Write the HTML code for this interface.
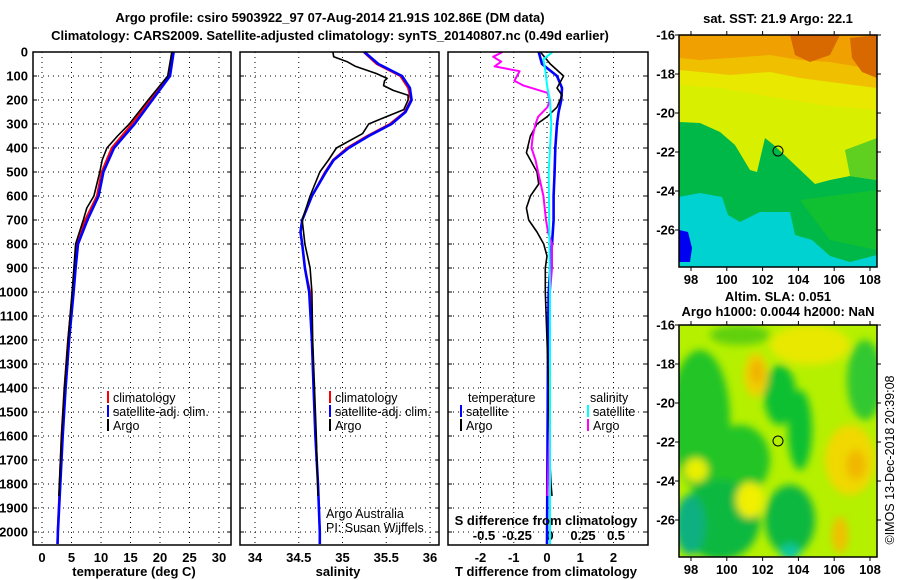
<!DOCTYPE html>
<html><head><meta charset="utf-8">
<style>
html,body{margin:0;padding:0;background:#fff;}
svg{display:block;font-family:"Liberation Sans",sans-serif;}
.b{font-weight:bold;font-size:13px;}
.n{font-size:12.5px;}
</style></head>
<body>
<svg id="fig" width="900" height="580" viewBox="0 0 900 580">
<defs>
<filter id="bl" x="-20%" y="-20%" width="140%" height="140%"><feGaussianBlur stdDeviation="4"/></filter>
<clipPath id="c1"><rect x="679" y="35" width="198" height="232"/></clipPath>
<clipPath id="c2"><rect x="679" y="325" width="198" height="232"/></clipPath>
</defs>
<text class="b" x="330" y="22" text-anchor="middle">Argo profile: csiro 5903922_97 07-Aug-2014 21.91S 102.86E (DM data)</text>
<text class="b" x="330" y="40" text-anchor="middle">Climatology: CARS2009. Satellite-adjusted climatology: synTS_20140807.nc (0.49d earlier)</text>

<g clip-path="url(#c1)">
<rect x="679" y="35" width="198" height="232" fill="#00d2d2"/>
<polygon fill="#00b848" points="679,35 877,35 877,255 850,262 830,256 812,240 795,235 790,212 760,212 740,222 728,215 722,197 700,193 679,197"/>
<polygon fill="#10c030" points="800,200 877,190 877,250 830,240"/>
<polygon fill="#d8f000" points="679,35 877,35 877,180 850,176 830,180 815,184 795,165 775,146 765,138 757,172 750,170 735,145 720,132 700,123 679,122"/>
<polygon fill="#60d020" points="845,150 877,138 877,180 850,176"/>
<polygon fill="#e8e800" points="679,35 877,35 877,110 820,105 790,100 760,95 720,88 679,85"/>
<polygon fill="#f0c000" points="679,35 877,35 877,88 830,82 800,78 770,72 730,75 700,72 679,70"/>
<polygon fill="#f0a000" points="679,35 877,35 877,70 830,62 800,60 770,55 730,58 700,60 679,58"/>
<polygon fill="#d86800" points="790,35 840,35 830,55 810,62 795,55"/>
<polygon fill="#d86800" points="850,38 877,35 877,78 862,72 852,58"/>
<polygon fill="#0000f0" points="679,230 688,232 692,248 690,262 679,262"/>
<circle cx="778" cy="151" r="5" fill="none" stroke="#000" stroke-width="1"/>
</g>
<rect x="679" y="35" width="198" height="232" fill="none" stroke="#000" stroke-width="1.5"/>

<g clip-path="url(#c2)">
<rect x="679" y="325" width="198" height="232" fill="#b4f000"/>
<g filter="url(#bl)">
<ellipse cx="700" cy="420" rx="30" ry="70" fill="#20c428"/>
<ellipse cx="740" cy="460" rx="30" ry="35" fill="#20c428"/>
<ellipse cx="720" cy="520" rx="40" ry="40" fill="#10b840"/>
<ellipse cx="690" cy="525" rx="15" ry="30" fill="#10b080"/>
<ellipse cx="780" cy="395" rx="16" ry="30" fill="#10c030"/>
<ellipse cx="800" cy="430" rx="12" ry="40" fill="#10c030"/>
<ellipse cx="790" cy="520" rx="25" ry="35" fill="#10b840"/>
<ellipse cx="790" cy="552" rx="10" ry="8" fill="#10c8a0"/>
<ellipse cx="865" cy="380" rx="18" ry="40" fill="#30c830"/>
<ellipse cx="740" cy="335" rx="30" ry="10" fill="#60d010"/>
<ellipse cx="810" cy="345" rx="40" ry="20" fill="#e8e800"/>
<ellipse cx="756" cy="375" rx="12" ry="22" fill="#f0d000"/>
<ellipse cx="757" cy="372" rx="6" ry="12" fill="#f0b000"/>
<ellipse cx="750" cy="500" rx="14" ry="18" fill="#f0f000"/>
<ellipse cx="850" cy="460" rx="25" ry="35" fill="#f0d800"/>
<ellipse cx="856" cy="465" rx="10" ry="15" fill="#f0b800"/>
<ellipse cx="840" cy="535" rx="8" ry="18" fill="#f0c000"/>
<ellipse cx="696" cy="470" rx="12" ry="12" fill="#e8f000"/>
</g>
<circle cx="778" cy="441" r="5" fill="none" stroke="#000" stroke-width="1"/>
</g>
<rect x="679" y="325" width="198" height="232" fill="none" stroke="#000" stroke-width="1.5"/>

<text class="b" x="778" y="23" text-anchor="middle">sat. SST: 21.9 Argo: 22.1</text>
<text class="b" x="778" y="301" text-anchor="middle">Altim. SLA: 0.051</text>
<text class="b" x="778" y="316" text-anchor="middle">Argo h1000: 0.0044 h2000: NaN</text>
<text class="n" transform="translate(894,460) rotate(-90)" text-anchor="middle">©IMOS 13-Dec-2018 20:39:08</text>
<g id="mapaxes"></g>
<g id="panels"></g>
</svg>
<script>
const depthTicks = [0,100,200,300,400,500,600,700,800,900,1000,1100,1200,1300,1400,1500,1600,1700,1800,1900,2000];
const tempTicks = [0,5,10,15,20,25,30];
const salTicks = [34,34.5,35,35.5,36];
const salTickLabels = ["34","34.5","35","35.5","36"];
const tdTicks = [-2,-1,0,1,2];
const sdTicks = [-0.5,-0.25,0,0.25,0.5];
const sdTickLabels = ["-0.5","-0.25","0","0.25","0.5"];
const latTicks = [-16,-18,-20,-22,-24,-26];
const lonTicks = [98,100,102,104,106,108];

const tClimDepth = [0,100,200,300,400,500,600,700,800,900,1000,1200,1400,1600,1800,2000,2050];
const tClim = [22.2,21.5,18.3,15.2,11.8,10.1,9.3,7.3,5.9,5.6,5.2,4.4,3.8,3.3,3.0,2.65,2.6];
const tSat = [22.3,21.7,18.7,15.7,12.2,10.4,9.6,7.7,6.1,5.7,5.35,4.6,4.0,3.5,3.1,2.7,2.65];
const tArgoDepth = [0,100,200,300,350,400,450,500,600,650,700,800,900,1000,1200,1400,1600,1850];
const tArgo = [22.0,21.3,18.0,14.8,12.8,11.0,10.2,9.8,8.8,7.6,7.0,5.7,5.4,5.1,4.4,3.8,3.3,2.85];

const sClimDepth = [0,50,100,150,200,250,300,350,400,450,500,600,700,750,800,900,1000,1200,1400,1600,1800,2000,2050];
const sClim = [35.24,35.39,35.66,35.75,35.78,35.71,35.54,35.28,35.05,34.89,34.80,34.65,34.54,34.52,34.54,34.57,34.63,34.65,34.67,34.69,34.72,34.74,34.74];
const sSat = [35.25,35.41,35.68,35.77,35.79,35.72,35.56,35.30,35.07,34.90,34.81,34.65,34.54,34.52,34.54,34.57,34.62,34.65,34.67,34.69,34.72,34.74,34.74];
const sArgoDepth = [0,20,40,60,90,110,120,140,160,180,200,240,280,300,340,400,450,500,600,700,800,900,1000,1200,1400,1600,1850];
const sArgo = [34.89,34.90,35.05,35.15,35.39,35.51,35.48,35.47,35.58,35.75,35.75,35.70,35.43,35.30,35.23,34.93,34.84,34.74,34.63,34.54,34.57,34.63,34.65,34.66,34.68,34.70,34.72];

const dTArgoDepth = [0,50,100,150,180,230,270,300,350,420,500,550,600,650,700,750,800,850,900,1000,1200,1400,1600,1800,1850];
const dTArgo = [-0.2,0.1,0.5,0.3,0.45,0.3,0,-0.3,-0.5,-0.62,-0.3,-0.25,-0.5,-0.62,-0.55,-0.3,-0.1,0,-0.05,-0.05,0,0.05,0.05,0.12,0.15];
const dTSatDepth = [0,50,100,150,200,250,300,400,500,600,700,800,900,1000,1200,1500,2050];
const dTSat = [-0.25,-0.15,0.3,0.45,0.43,0.35,0.3,0.25,0.23,0.2,0.2,0.15,0.1,0.05,0.03,0.02,0];
const dSArgoDepth = [0,20,40,60,80,100,120,140,170,200,230,270,300,350,400,450,500,600,700,750,800,900,1000,1200,1500,1850];
const dSArgo = [-0.36,-0.43,-0.37,-0.42,-0.23,-0.25,-0.27,-0.2,-0.02,0,-0.02,-0.09,-0.11,-0.13,-0.14,-0.11,-0.09,-0.05,-0.03,-0.015,0.015,0.015,0,0,0,-0.02];
const dSSatDepth = [0,30,80,150,200,300,500,1000,2050];
const dSSat = [0.02,-0.05,-0.035,-0.02,0,0.01,-0.01,0,0];

const NS = "http://www.w3.org/2000/svg";
const yD = d => 52 + d*0.24;
const xT = t => 42 + t*5.9;
const xS = s => 255 + (s-34)*87.5;
const xTD = d => 547 + d*33.25;
const xSD = s => 550 + s*132;
const yLat = la => 35 + (-16-la)*19.5;
const yLat2 = la => 325 + (-16-la)*19.5;
const xLon = lo => 691 + (lo-98)*17.9;
const panels = document.getElementById('panels');
const mapaxes = document.getElementById('mapaxes');
function mk(tag, attrs, parent){const e=document.createElementNS(NS,tag);for(const k in attrs)e.setAttribute(k,attrs[k]);(parent||panels).appendChild(e);return e;}
const TOP=52, BOT=545;
const boxes=[[33,231],[240,439],[448,648]];
boxes.forEach((b,i)=>{
  depthTicks.forEach(d=>{
    const l=mk('line',{x1:b[0],x2:b[1],y1:yD(d),y2:yD(d),stroke:'#000','stroke-width':1,'stroke-dasharray':'1 4'});
    
    
    mk('line',{x1:b[0],x2:b[0]+4,y1:yD(d),y2:yD(d),stroke:'#000'});
    mk('line',{x1:b[1]-4,x2:b[1],y1:yD(d),y2:yD(d),stroke:'#000'});
  });
});
function vgrid(ticks,fx,b,labels,ylab,name){
  ticks.forEach((t,i)=>{
    const x=fx(t);
    const l=mk('line',{x1:x,x2:x,y1:TOP,y2:BOT,stroke:'#000','stroke-width':1,'stroke-dasharray':'1 4'});
    
    
    if(ylab!==null){
      const tx=mk('text',{x:x,y:ylab,'text-anchor':'middle',class:'b'});
      tx.textContent=labels?labels[i]:String(t);
      
      
    }
  });
}
vgrid(tempTicks,xT,boxes[0],null,562,'temperature');
vgrid(salTicks,xS,boxes[1],salTickLabels,562,'salinity');
vgrid(tdTicks,xTD,boxes[2],null,562,'t-difference');
sdTicks.forEach((s,i)=>{
  const tx=mk('text',{x:xSD(s),y:540,'text-anchor':'middle',class:'b'});
  tx.textContent=sdTickLabels[i];
  
  
});
depthTicks.forEach(d=>{
  const tx=mk('text',{x:28,y:yD(d)+4.5,'text-anchor':'end',class:'b'});
  tx.textContent=String(d);
  
  
});
function series(xs,ds,fx,color,w,name){
  const pts=xs.map((v,i)=>fx(v).toFixed(1)+','+yD(ds[i]).toFixed(1)).join(' ');
  const p=mk('polyline',{points:pts,fill:'none',stroke:color,'stroke-width':w,'stroke-linejoin':'round'});
  
  
}
series(tClim,tClimDepth,xT,'#f00',2,'temperature-climatology-line');
series(tSat,tClimDepth,xT,'#00f',2.6,'temperature-satellite-line');
series(tArgo,tArgoDepth,xT,'#000',1.6,'temperature-argo-line');
series(sClim,sClimDepth,xS,'#f00',2,'salinity-climatology-line');
series(sSat,sClimDepth,xS,'#00f',2.6,'salinity-satellite-line');
series(sArgo,sArgoDepth,xS,'#000',1.6,'salinity-argo-line');
series(dTSat,dTSatDepth,xTD,'#00f',2.6,'t-diff-satellite-line');
series(dTArgo,dTArgoDepth,xTD,'#000',1.6,'t-diff-argo-line');
series(dSArgo,dSArgoDepth,xSD,'#f0f',2,'s-diff-argo-line');
series(dSSat,dSSatDepth,xSD,'#0ff',2,'s-diff-satellite-line');
boxes.forEach(b=>{
  const r=mk('rect',{x:b[0],y:TOP,width:b[1]-b[0],height:BOT-TOP,fill:'none',stroke:'#000','stroke-width':1.5});
  
  
});
function txt(x,y,s,cls,name,anchor){
  const t=mk('text',{x:x,y:y,class:cls,'text-anchor':anchor||'start'});
  t.textContent=s;
  
  
}
function leg(x,y,color,s,name){
  const l=mk('line',{x1:x,x2:x,y1:y-11,y2:y+1,stroke:color,'stroke-width':2});
  
  
  txt(x+5,y,s,'n',name+'-label');
}
leg(108,402,'#f00','climatology','legend-climatology');
leg(108,416,'#00f','satellite-adj. clim.','legend-satellite');
leg(108,430,'#000','Argo','legend-argo');
leg(330,402,'#f00','climatology','legend-sal-climatology');
leg(330,416,'#00f','satellite-adj. clim.','legend-sal-satellite');
leg(330,430,'#000','Argo','legend-sal-argo');
txt(468,402,'temperature','n','legend-temperature-header');
txt(590,402,'salinity','n','legend-salinity-header');
leg(461,416,'#00f','satellite','legend-tdiff-satellite');
leg(461,430,'#000','Argo','legend-tdiff-argo');
leg(588,416,'#0ff','satellite','legend-sdiff-satellite');
leg(588,430,'#f0f','Argo','legend-sdiff-argo');
txt(326,518,'Argo Australia','n','credit-argo-australia');
txt(326,532,'PI: Susan Wijffels','n','credit-pi');
txt(546,525,'S difference from climatology','b','s-difference-axis-title','middle');
txt(134,576,'temperature (deg C)','b','temperature-axis-title','middle');
txt(338,576,'salinity','b','salinity-axis-title','middle');
txt(546,576,'T difference from climatology','b','t-difference-axis-title','middle');
[yLat,yLat2].forEach((fy,mi)=>{
  latTicks.forEach(la=>{
    const t=mk('text',{x:675,y:fy(la)+4.5,'text-anchor':'end',class:'b'},mapaxes);
    t.textContent=String(la);
    
    
    mk('line',{x1:877,x2:881,y1:fy(la),y2:fy(la),stroke:'#000'},mapaxes);
    mk('line',{x1:675,x2:679,y1:fy(la),y2:fy(la),stroke:'#000'},mapaxes);
  });
  const yb = mi===0?267:557;
  lonTicks.forEach(lo=>{
    const t=mk('text',{x:xLon(lo),y:yb+17,'text-anchor':'middle',class:'b'},mapaxes);
    t.textContent=String(lo);
    
    
    mk('line',{x1:xLon(lo),x2:xLon(lo),y1:yb,y2:yb+4,stroke:'#000'},mapaxes);
    mk('line',{x1:xLon(lo),x2:xLon(lo),y1:yb-232-4,y2:yb-232,stroke:'#000'},mapaxes);
  });
});
</script>
</body></html>
